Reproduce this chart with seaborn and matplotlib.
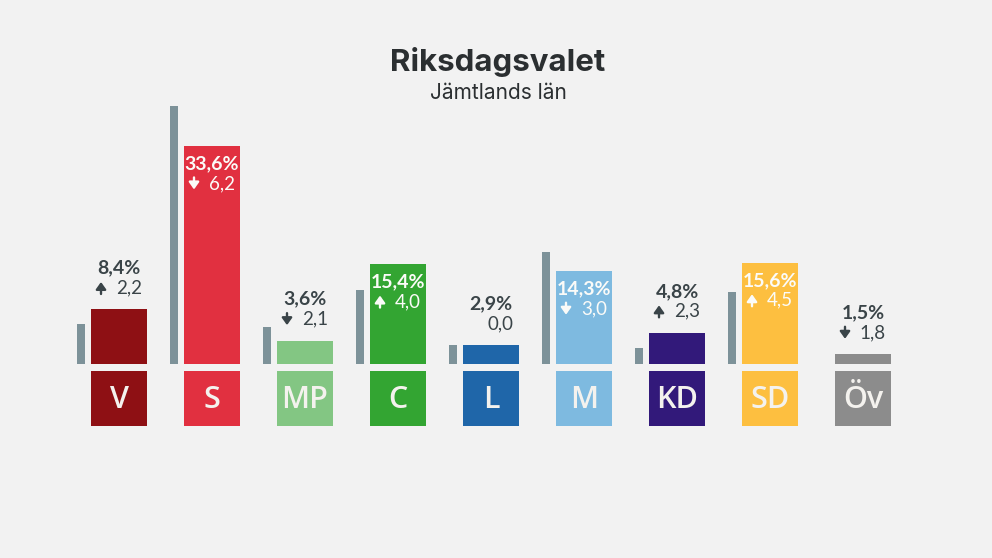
import numpy as np
import pandas as pd
import seaborn as sns
import matplotlib.pyplot as plt

# Riksdagsvalet, Jämtlands län
partier = ["V", "S", "MP", "C", "L", "M", "KD", "SD", "Öv"]
andel = [8.4, 33.6, 3.6, 15.4, 2.9, 14.3, 4.8, 15.6, 1.5]
forra_valet = [6.2, 39.8, 5.7, 11.4, 2.9, 17.3, 2.5, 11.1, np.nan]
andel_text = ["8,4%", "33,6%", "3,6%", "15,4%", "2,9%", "14,3%", "4,8%", "15,6%", "1,5%"]
andring_text = ["2,2", "6,2", "2,1", "4,0", "0,0", "3,0", "2,3", "4,5", "1,8"]
riktning = [1, -1, -1, 1, 0, -1, 1, 1, -1]
inuti = [False, True, False, True, False, True, False, True, False]
farger = ["#8e1014", "#e13040", "#83c683", "#33a532", "#1f66a9", "#7ebae0", "#32197a", "#fdbf40", "#8c8c8c"]

BG = "#f2f2f2"
GRA = "#7d9299"
MORK = "#3a4448"
PX_X = 93.0  # pixlar mellan partierna
PX_Y = 6.49  # pixlar per procentenhet

sns.set_theme(style="white")
plt.rcParams["font.family"] = ["Lato", "DejaVu Sans"]

fig = plt.figure(figsize=(9.92, 5.58), dpi=100, facecolor=BG)
ax = fig.add_axes([0, 0, 1, 1])
ax.set_facecolor(BG)

df = pd.DataFrame({"parti": partier, "andel": andel})
sns.barplot(data=df, x="parti", y="andel", hue="parti", palette=farger, order=partier,
            hue_order=partier, width=56 / PX_X, saturation=1, legend=False, linewidth=0, ax=ax)

pos = np.arange(len(partier))

# förra valet, smal grå stapel till vänster
ax.bar(pos - 38 / PX_X, forra_valet, width=8 / PX_X, color=GRA, linewidth=0)

# partirutor under staplarna
ax.bar(pos, [-55 / PX_Y] * len(pos), bottom=-7 / PX_Y, width=56 / PX_X, color=farger, linewidth=0)

for i, parti in enumerate(partier):
    ax.text(i, -35.5 / PX_Y, parti, ha="center", va="center", color="#f4f2ee",
            fontsize=22, fontweight="semibold", family=["Open Sans", "DejaVu Sans"])

    if inuti[i]:
        y1 = andel[i] - 17.5 / PX_Y
        y2 = andel[i] - 37.5 / PX_Y
        c = "#fbfbf8"
    else:
        y1 = andel[i] + 41.5 / PX_Y
        y2 = andel[i] + 21.5 / PX_Y
        c = MORK
    ax.text(i, y1, andel_text[i], ha="center", va="center", color=c, fontsize=14, fontweight="bold")
    ax.text(i + 23 / PX_X, y2, andring_text[i], ha="right", va="center", color=c, fontsize=13.5)
    if riktning[i] != 0:
        d = riktning[i] * 6 / PX_Y
        ax.annotate("", xy=(i - 18 / PX_X, y2 + d), xytext=(i - 18 / PX_X, y2 - d),
                    arrowprops=dict(arrowstyle="-|>,head_width=0.25,head_length=0.35",
                                    color=c, lw=1.7, shrinkA=0, shrinkB=0))

ax.set_xlim(-119 / PX_X, (992 - 119) / PX_X)
ax.set_ylim(-(558 - 364) / PX_Y, 364 / PX_Y)
ax.axis("off")

fig.text(498 / 992, 1 - 62 / 558, "Riksdagsvalet", ha="center", va="center", color="#2b2f31",
         fontsize=22.5, fontweight="bold", family=["Inter", "DejaVu Sans"])
fig.text(498 / 992, 1 - 93 / 558, "Jämtlands län", ha="center", va="center", color="#2b2f31",
         fontsize=15, family=["Inter", "DejaVu Sans"])

fig.savefig("out.png", dpi=100, facecolor=BG)
